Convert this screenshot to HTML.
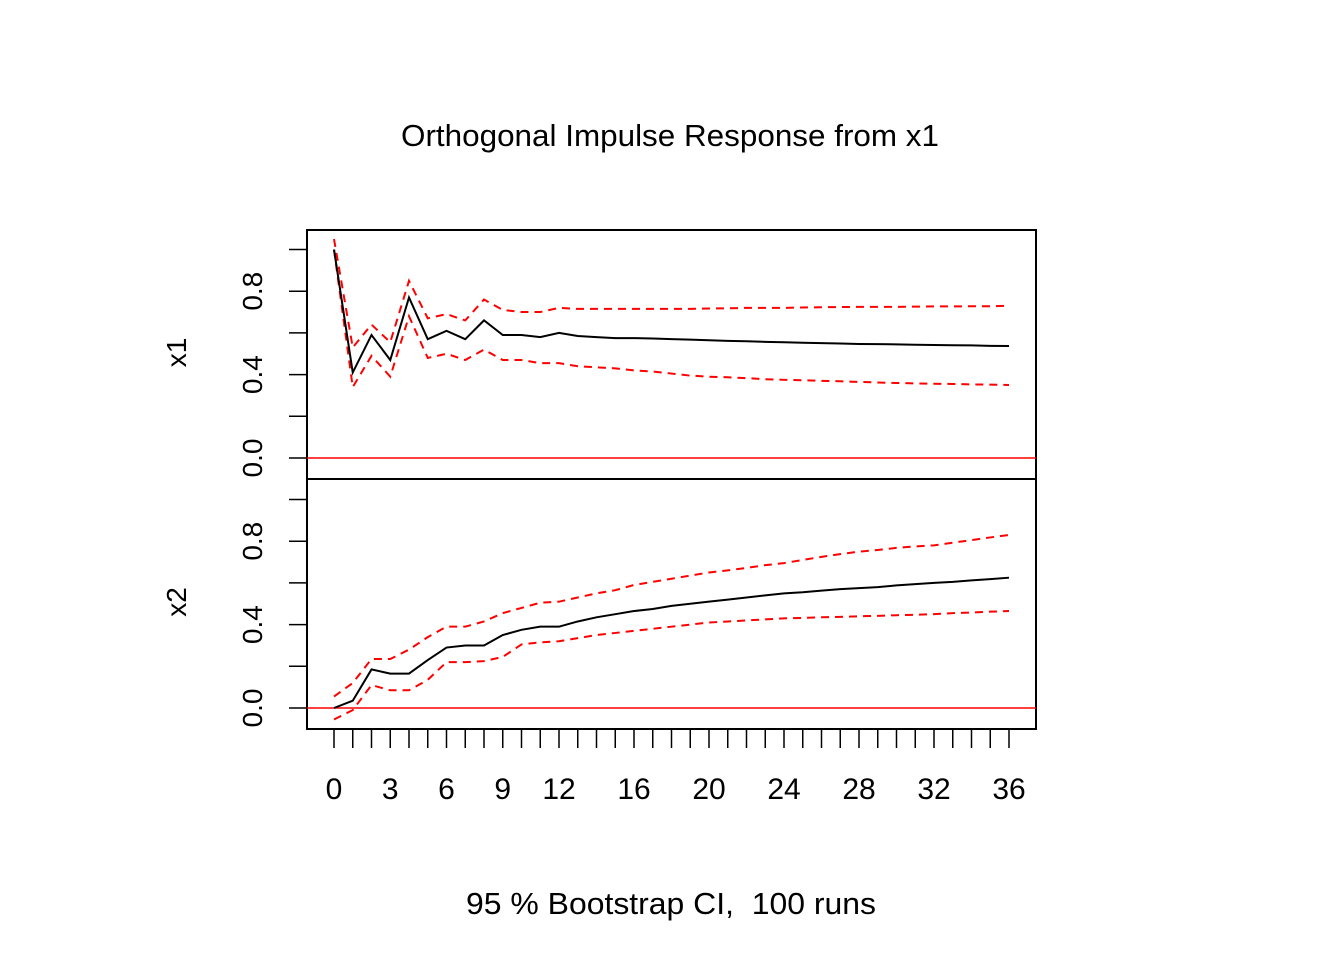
<!DOCTYPE html>
<html><head><meta charset="utf-8"><style>
html,body{margin:0;padding:0;background:#fff}
svg{display:block;font-family:"Liberation Sans",Arial,sans-serif}
text{white-space:pre}
</style></head><body>
<svg id="chart" width="1344" height="960" viewBox="0 0 1344 960">
<rect width="1344" height="960" fill="#fff"/>
<text x="670" y="146" font-size="31" text-anchor="middle" textLength="538" lengthAdjust="spacingAndGlyphs">Orthogonal Impulse Response from x1</text>
<text x="671" y="914" font-size="31" text-anchor="middle" textLength="410" lengthAdjust="spacingAndGlyphs">95 % Bootstrap CI,  100 runs</text>
<g id="plot"></g>
</svg>
<script>
const steps = Array.from({length:37},(_,i)=>i);
const xTickLabels = [0,3,6,9,12,16,20,24,28,32,36];
const yTickValues = [0,0.2,0.4,0.6,0.8,1.0];
const yTickLabels = ["0.0","0.4","0.8"];
const x1Mid = [1.0,0.41,0.59,0.47,0.77,0.57,0.61,0.57,0.66,0.59,0.59,0.58,0.60,0.585,0.58,0.575,0.575,0.573,0.57,0.568,0.565,0.562,0.56,0.557,0.555,0.553,0.551,0.549,0.547,0.546,0.545,0.543,0.542,0.541,0.54,0.538,0.537];
const x1Upper = [1.05,0.53,0.64,0.555,0.85,0.67,0.69,0.66,0.76,0.71,0.70,0.70,0.72,0.715,0.715,0.715,0.715,0.715,0.715,0.715,0.717,0.718,0.72,0.72,0.72,0.722,0.723,0.724,0.725,0.725,0.725,0.726,0.727,0.727,0.728,0.728,0.73];
const x1Lower = [1.0,0.34,0.49,0.39,0.68,0.48,0.50,0.47,0.52,0.47,0.47,0.455,0.455,0.44,0.435,0.43,0.42,0.415,0.405,0.395,0.39,0.387,0.383,0.378,0.375,0.373,0.37,0.368,0.365,0.362,0.36,0.358,0.356,0.355,0.353,0.352,0.35];
const x2Mid = [0,0.035,0.185,0.165,0.165,0.23,0.29,0.30,0.30,0.35,0.375,0.39,0.39,0.415,0.435,0.45,0.465,0.475,0.49,0.50,0.51,0.52,0.53,0.54,0.55,0.555,0.563,0.57,0.575,0.58,0.588,0.594,0.60,0.605,0.612,0.618,0.625];
const x2Upper = [0.055,0.12,0.235,0.235,0.28,0.34,0.39,0.39,0.415,0.455,0.48,0.505,0.51,0.53,0.55,0.565,0.59,0.605,0.62,0.635,0.65,0.66,0.672,0.685,0.695,0.71,0.725,0.738,0.75,0.758,0.768,0.775,0.78,0.793,0.805,0.818,0.83];
const x2Lower = [-0.055,-0.01,0.11,0.085,0.085,0.135,0.22,0.22,0.225,0.245,0.305,0.315,0.32,0.335,0.35,0.36,0.37,0.38,0.39,0.40,0.41,0.415,0.42,0.425,0.43,0.432,0.435,0.437,0.44,0.442,0.445,0.447,0.45,0.455,0.458,0.462,0.465];

const NS="http://www.w3.org/2000/svg";
const g=document.getElementById('plot');
const L=307,R=1036;
const xs=v=>334+v*18.75;
const SCALE=208.5;
function mk(tag,attrs){const e=document.createElementNS(NS,tag);for(const k in attrs)e.setAttribute(k,attrs[k]);g.appendChild(e);return e;}
const panels=[
 {name:'x1',top:230,bot:479,zero:458,mid:x1Mid,up:x1Upper,lo:x1Lower},
 {name:'x2',top:479,bot:729,zero:708,mid:x2Mid,up:x2Upper,lo:x2Lower}
];
panels.forEach(p=>{
 const ys=v=>p.zero-v*SCALE;
 const box=mk('rect',{x:L,y:p.top,width:R-L,height:p.bot-p.top,fill:'none',stroke:'#000','stroke-width':2});
 
 
 yTickValues.forEach(v=>{
  const t=mk('line',{x1:289,x2:L,y1:ys(v),y2:ys(v),stroke:'#000','stroke-width':1.5});
  
  
 });
 yTickLabels.forEach(s=>{
  const y=ys(parseFloat(s));
  const t=mk('text',{x:0,y:0,'font-size':28,'text-anchor':'middle',transform:`translate(262,${y}) rotate(-90)`});
  t.textContent=s;
  
  
 });
 const yl=mk('text',{x:0,y:0,'font-size':28,'text-anchor':'middle',transform:`translate(186,${(p.top+p.bot)/2-2}) rotate(-90)`});
 yl.textContent=p.name;
 
 
 const zl=mk('line',{x1:L,x2:R,y1:ys(0),y2:ys(0),stroke:'#ff0000','stroke-width':1.5});
 
 
 const pts=a=>a.map((v,i)=>xs(steps[i])+','+ys(v)).join(' ');
 const up=mk('polyline',{points:pts(p.up),fill:'none',stroke:'#ff0000','stroke-width':2,'stroke-dasharray':'8,6'});
 
 
 const lo=mk('polyline',{points:pts(p.lo),fill:'none',stroke:'#ff0000','stroke-width':2,'stroke-dasharray':'8,6'});
 
 
 const md=mk('polyline',{points:pts(p.mid),fill:'none',stroke:'#000','stroke-width':2});
 
 
});
steps.forEach(s=>{
 const t=mk('line',{x1:xs(s),x2:xs(s),y1:729,y2:748,stroke:'#000','stroke-width':1.5});
 
 
});
xTickLabels.forEach(s=>{
 const t=mk('text',{x:xs(s),y:799,'font-size':30,'text-anchor':'middle'});
 t.textContent=s;
 
 
});
</script>
</body></html>
